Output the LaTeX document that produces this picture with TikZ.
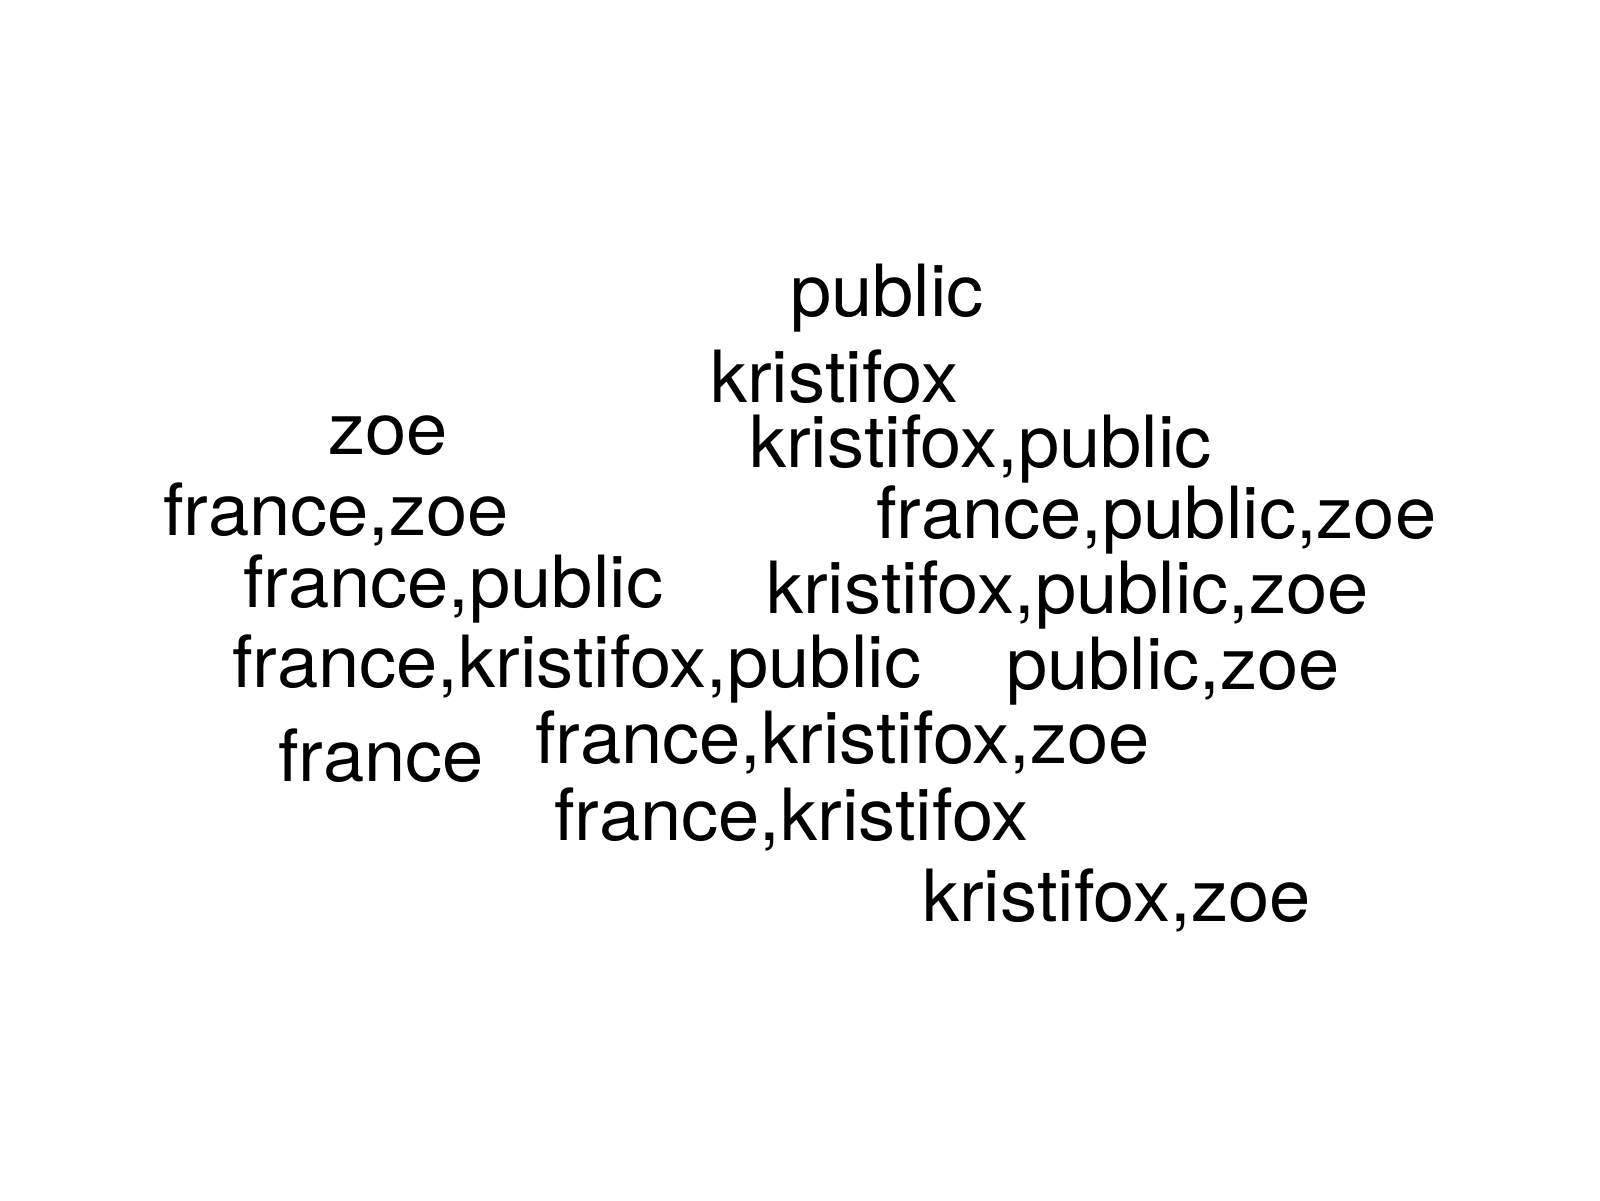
\documentclass[tikz,border=0pt]{standalone}
\usepackage{fontspec}
\setmainfont{TeX Gyre Heros}
\newfontfamily\wordfont[FakeStretch=1.03]{TeX Gyre Heros}
\begin{document}
\begin{tikzpicture}[x=1pt,y=-1pt,
  word/.style={anchor=base west,inner sep=0pt,outer sep=0pt,font=\wordfont\fontsize{72}{86}\selectfont}]
\fill[white] (0,0) rectangle (1600,1200);
\useasboundingbox (0,0) rectangle (1600,1200);
\node[word] (w1) at (790,316) {public};
\node[word] (w2) at (710,402) {kristifox};
\node[word] (w3) at (328,454) {zoe};
\node[word] (w4) at (749,467) {kristifox,public};
\node[word] (w5) at (163,535) {france,zoe};
\node[word] (w6) at (876,538) {france,public,zoe};
\node[word] (w7) at (243,607) {france,public};
\node[word] (w8) at (766,613) {kristifox,public,zoe};
\node[word] (w9) at (232,687) {france,kristifox,public};
\node[word] (w10) at (1006,689) {public,zoe};
\node[word] (w11) at (278,781) {france};
\node[word] (w12) at (535,763) {france,kristifox,zoe};
\node[word] (w13) at (554,840) {france,kristifox};
\node[word] (w14) at (922,921) {kristifox,zoe};
\end{tikzpicture}
\end{document}
